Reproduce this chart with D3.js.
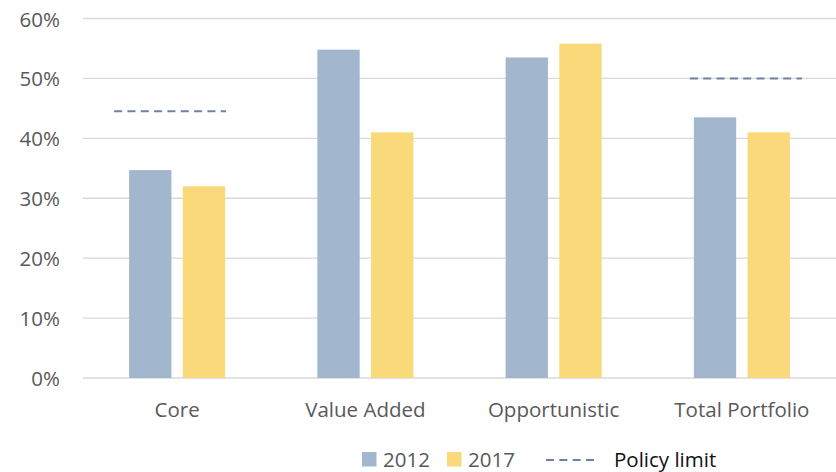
<!DOCTYPE html>
<html>
<head>
<meta charset="utf-8">
<script src="https://cdn.jsdelivr.net/npm/d3@7"></script>
<style>
  html, body { margin: 0; padding: 0; background: #fff; }
  svg { display: block; }
  text { font-family: "Open Sans", sans-serif; }
</style>
</head>
<body>
<svg id="chart" width="836" height="472"></svg>
<script>
// Share of allocation by strategy, 2012 vs 2017, with policy limits
const categories = ["Core", "Value Added", "Opportunistic", "Total Portfolio"];
const seriesNames = ["2012", "2017"];
const values2012 = [0.347, 0.548, 0.535, 0.435];
const values2017 = [0.32, 0.41, 0.558, 0.41];
const policyLimit = [0.445, null, null, 0.50];
const yTicks = [0, 0.1, 0.2, 0.3, 0.4, 0.5, 0.6];
const legendLabels = ["2012", "2017", "Policy limit"];

(function () {
  const colors = { "2012": "#A2B7CD", "2017": "#FAD97A" };
  const limitColor = "#7180A8";
  const textColor = "#595959";

  const svg = d3.select("#chart");
  const plotLeft = 83, plotRight = 836, plotTop = 18.5, plotBottom = 378;

  const x0 = d3.scaleBand().domain(categories).range([plotLeft, plotRight]).padding(0);
  const x1 = d3.scaleBand().domain(seriesNames).range([0, x0.bandwidth()])
    .paddingInner(0.212).paddingOuter(0.859);
  const y = d3.scaleLinear().domain([0, 0.6]).range([plotBottom, plotTop]);

  // gridlines
  svg.append("g").selectAll("line").data(yTicks).join("line")
    .attr("x1", plotLeft).attr("x2", plotRight)
    .attr("y1", d => y(d)).attr("y2", d => y(d))
    .attr("stroke", "#D9D9D9").attr("stroke-width", 1.4);

  // y-axis labels
  const fmt = d3.format(".0%");
  svg.append("g").selectAll("text").data(yTicks).join("text")
    .attr("x", 60).attr("y", d => y(d) + 8)
    .attr("text-anchor", "end")
    .attr("font-size", 20.5).attr("fill", textColor)
    .text(d => fmt(d));

  // bars
  const rows = categories.map((c, i) => ({ cat: c, vals: [
    { key: "2012", v: values2012[i] }, { key: "2017", v: values2017[i] }] }));
  const groups = svg.append("g").selectAll("g").data(rows).join("g")
    .attr("transform", d => `translate(${x0(d.cat)},0)`);
  groups.selectAll("rect").data(d => d.vals).join("rect")
    .attr("x", d => x1(d.key))
    .attr("width", x1.bandwidth())
    .attr("y", d => y(d.v))
    .attr("height", d => y(0) - y(d.v))
    .attr("fill", d => colors[d.key]);

  // policy limit dashes, spanning each group's bars
  const limitShift = [-7, 0, 0, 4];
  const limitHalf = 56;
  svg.append("g").selectAll("line")
    .data(categories.map((c, i) => ({ cat: c, v: policyLimit[i], s: limitShift[i] }))
      .filter(d => d.v != null))
    .join("line")
    .attr("x1", d => x0(d.cat) + x0.bandwidth() / 2 + d.s - limitHalf)
    .attr("x2", d => x0(d.cat) + x0.bandwidth() / 2 + d.s + limitHalf)
    .attr("y1", d => y(d.v)).attr("y2", d => y(d.v))
    .attr("stroke", limitColor).attr("stroke-width", 2)
    .attr("stroke-dasharray", "8,5.33");

  // category labels
  svg.append("g").selectAll("text").data(categories).join("text")
    .attr("x", d => x0(d) + x0.bandwidth() / 2)
    .attr("y", 417)
    .attr("text-anchor", "middle")
    .attr("font-size", 20.5).attr("fill", textColor)
    .text(d => d);

  // legend
  const lg = svg.append("g");
  const lgY = 466.5;
  const sq = [362, 447];
  seriesNames.forEach((s, i) => {
    lg.append("rect").attr("x", sq[i]).attr("y", lgY - 14.5).attr("width", 14.5).attr("height", 14.5)
      .attr("fill", colors[s]);
    lg.append("text").attr("x", sq[i] + 21).attr("y", lgY)
      .attr("font-size", 20.5).attr("fill", textColor).text(legendLabels[i]);
  });
  lg.append("line").attr("x1", 546).attr("x2", 594).attr("y1", lgY - 6.5).attr("y2", lgY - 6.5)
    .attr("stroke", limitColor).attr("stroke-width", 2).attr("stroke-dasharray", "8,5.33");
  lg.append("text").attr("x", 614).attr("y", lgY)
    .attr("font-size", 20.5).attr("fill", "#111").text(legendLabels[2]);
})();
</script>
</body>
</html>
